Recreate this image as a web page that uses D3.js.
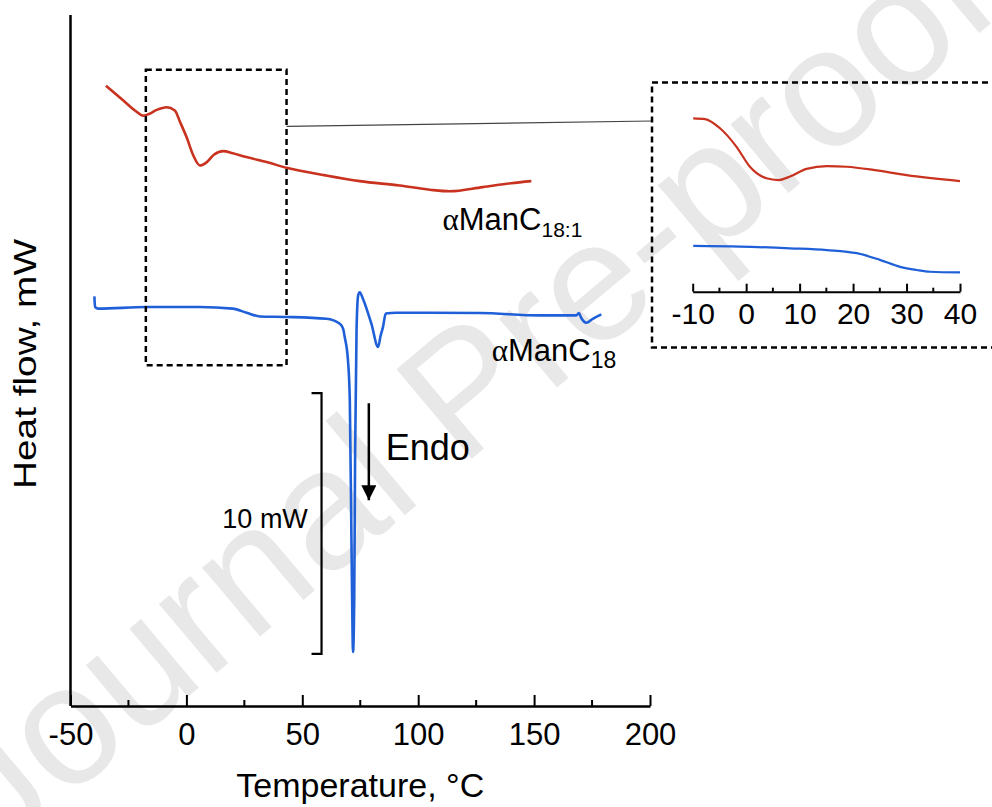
<!DOCTYPE html>
<html>
<head>
<meta charset="utf-8">
<script src="https://cdn.jsdelivr.net/npm/d3@7"></script>
<style>
  body { margin: 0; background: #fff; }
  svg { display: block; font-family: 'Liberation Sans', Arial, sans-serif; }
</style>
</head>
<body>
<svg id="chart" width="992" height="807"></svg>
<script>
// DSC traces: [temperature in C, heat flow in mW (offset)]
var red_main = [
  [-34.7, 23.79], [-27.2, 23.22], [-22.2, 22.84], [-18.6, 22.64], [-16.5, 22.69],
  [-12.8, 22.86], [-8.5, 22.96], [-5.0, 22.84], [-2.7, 22.39], [0.1, 21.81],
  [3.0, 21.11], [5.8, 20.73], [8.7, 20.85], [12.0, 21.15], [15.9, 21.28],
  [20.0, 21.20], [25.9, 21.05], [35.0, 20.85], [43.2, 20.64], [60.0, 20.35],
  [74.8, 20.13], [92.0, 19.96], [105.0, 19.80], [113.6, 19.74], [127.8, 19.90],
  [140.0, 20.05], [148.8, 20.13]
];
var blue_main = [
  [-39.7, 15.71], [-39.4, 15.30], [-38.0, 15.24], [-17.2, 15.30], [5.8, 15.30],
  [20.0, 15.24], [26.0, 15.08], [31.7, 14.94], [43.2, 14.92], [60.4, 14.85],
  [66.2, 14.66], [67.6, 14.47], [68.3, 14.15], [69.7, 13.26], [70.5, 11.72],
  [71.3, 5.59], [71.9, 2.07], [72.4, 4.06], [72.8, 9.81], [73.4, 14.41],
  [74.1, 15.75], [74.8, 15.87], [76.1, 15.63], [79.8, 14.66], [82.7, 13.77],
  [83.8, 14.21], [84.8, 14.53], [86.0, 15.05], [90.6, 15.08], [126.5, 15.07],
  [152.4, 14.98], [168.2, 14.98], [169.3, 15.07], [170.3, 14.89], [172.5, 14.70],
  [175.3, 14.85], [179.0, 15.02]
];

// Zoomed inset, -10 to 40 C (own vertical units)
var red_inset = [
  [-9.9, 4.95], [-7.7, 4.93], [-4.9, 4.67], [-1.8, 4.14], [0.7, 3.57],
  [3.8, 3.24], [6.0, 3.19], [8.2, 3.29], [11.3, 3.51], [15.1, 3.59],
  [18.8, 3.57], [23.8, 3.48], [30.0, 3.33], [40.0, 3.16]
];
var blue_inset = [
  [-9.9, 1.31], [-1.2, 1.29], [8.2, 1.24], [15.1, 1.19], [20.7, 1.10],
  [25.0, 0.91], [28.8, 0.71], [31.9, 0.62], [34.4, 0.57], [40.0, 0.55]
];

var main_ticks = [-50, 0, 50, 100, 150, 200];
var main_minor = [-25, 25, 75, 125, 175];
var inset_ticks = [-10, 0, 10, 20, 30, 40];
var inset_minor = [-5, 5, 15, 25, 35];

var svg = d3.select('#chart');
var red = '#c8321e';
var blue = '#1f5fd8';
var plain = function(d) { return String(d); }; // keep the hyphen minus of the original

// Watermark, drawn first so everything sits on top of it.
svg.append('text')
  .attr('transform', 'translate(472,400) rotate(-40)')
  .attr('text-anchor', 'middle')
  .attr('dominant-baseline', 'middle')
  .attr('font-size', 170)
  .attr('fill', '#e8e8e8')
  .text('Journal Pre-proof');

// Main scales.
var x = d3.scaleLinear().domain([-50, 200]).range([70.5, 650]);
var y = d3.scaleLinear().domain([0, 26.5]).range([706, 15]);

// Inset scales.
var xi = d3.scaleLinear().domain([-10, 40]).range([692.7, 960]);
var yi = d3.scaleLinear().domain([0, 6]).range([291.7, 81.7]);

// Axes: bottom with inward ticks, left is just a line.
svg.append('line')
  .attr('x1', x(-50)).attr('x2', x(-50))
  .attr('y1', y(26.5)).attr('y2', y(0))
  .attr('stroke', '#000').attr('stroke-width', 2.5);

var xAxis = svg.append('g')
  .attr('transform', 'translate(0,' + y(0) + ')')
  .call(d3.axisBottom(x).tickValues(main_ticks).tickFormat(plain)
    .tickSize(-11).tickSizeOuter(0).tickPadding(17));
xAxis.select('.domain').attr('stroke-width', 2.5);
xAxis.selectAll('.tick line').attr('stroke-width', 2);
xAxis.selectAll('.tick text')
  .attr('font-size', 31)
  .attr('font-family', "'Liberation Sans', Arial, sans-serif")
  .attr('fill', '#000');

xAxis.selectAll('.minor')
  .data(main_minor)
  .enter().append('line')
    .attr('class', 'minor')
    .attr('x1', function(d) { return x(d); })
    .attr('x2', function(d) { return x(d); })
    .attr('y1', 0).attr('y2', -6)
    .attr('stroke', '#000').attr('stroke-width', 2);

// Axis titles.
svg.append('text')
  .attr('x', (x(-50) + x(200)) / 2)
  .attr('y', 797)
  .attr('text-anchor', 'middle')
  .attr('font-size', 34)
  .text('Temperature, °C');

svg.append('text')
  .attr('transform', 'translate(36,364) rotate(-90)')
  .attr('text-anchor', 'middle')
  .attr('font-size', 31)
  .attr('textLength', 250)
  .attr('lengthAdjust', 'spacingAndGlyphs')
  .text('Heat flow, mW');

// Traces.
var line = d3.line()
  .x(function(d) { return x(d[0]); })
  .y(function(d) { return y(d[1]); })
  .curve(d3.curveMonotoneX);

svg.append('path').datum(red_main)
  .attr('d', line).attr('fill', 'none')
  .attr('stroke', red).attr('stroke-width', 2.6);
svg.append('path').datum(blue_main)
  .attr('d', line).attr('fill', 'none')
  .attr('stroke', blue).attr('stroke-width', 2.6);

// Series labels.
function label(tx, ty, sub, subSize) {
  var t = svg.append('text')
    .attr('x', x(tx)).attr('y', y(ty))
    .attr('font-size', 31);
  t.append('tspan').attr('font-family', "'Liberation Serif', serif").text('α');
  t.append('tspan').text('ManC');
  t.append('tspan').attr('font-size', subSize).attr('dy', 7).text(sub);
}
label(110.5, 18.25, '18:1', 21);
label(131.7, 13.25, '18', 23);

// Dashed box round the region that is zoomed in the inset.
svg.append('rect')
  .attr('x', x(-17.5)).attr('y', y(24.4))
  .attr('width', x(43.2) - x(-17.5))
  .attr('height', y(13.07) - y(24.4))
  .attr('fill', 'none').attr('stroke', '#000')
  .attr('stroke-width', 2.5).attr('stroke-dasharray', '6,4');

svg.append('line')
  .attr('x1', x(43.2)).attr('y1', y(22.23))
  .attr('x2', 652).attr('y2', 121)
  .attr('stroke', '#444').attr('stroke-width', 1.2);

// Inset frame (runs off the right edge).
svg.append('rect')
  .attr('x', 652).attr('y', 82.5)
  .attr('width', 360).attr('height', 265)
  .attr('fill', 'none').attr('stroke', '#000')
  .attr('stroke-width', 2.5).attr('stroke-dasharray', '6,4');

var inset = svg.append('g');
var insetAxis = inset.append('g')
  .attr('transform', 'translate(0,' + yi(0) + ')')
  .call(d3.axisBottom(xi).tickValues(inset_ticks).tickFormat(plain)
    .tickSize(-8).tickSizeOuter(0).tickPadding(11));
insetAxis.select('.domain').attr('stroke-width', 2);
insetAxis.selectAll('.tick line').attr('stroke-width', 2);
insetAxis.selectAll('.tick text')
  .attr('font-size', 30)
  .attr('font-family', "'Liberation Sans', Arial, sans-serif")
  .attr('fill', '#000');
insetAxis.selectAll('.minor')
  .data(inset_minor)
  .enter().append('line')
    .attr('x1', function(d) { return xi(d); })
    .attr('x2', function(d) { return xi(d); })
    .attr('y1', 0).attr('y2', -4)
    .attr('stroke', '#000').attr('stroke-width', 2);

var lineInset = d3.line()
  .x(function(d) { return xi(d[0]); })
  .y(function(d) { return yi(d[1]); })
  .curve(d3.curveMonotoneX);

inset.append('path').datum(red_inset)
  .attr('d', lineInset).attr('fill', 'none')
  .attr('stroke', red).attr('stroke-width', 2.2);
inset.append('path').datum(blue_inset)
  .attr('d', lineInset).attr('fill', 'none')
  .attr('stroke', blue).attr('stroke-width', 2.2);

// 10 mW scale bar.
var bar = svg.append('g');
bar.append('path')
  .attr('d', 'M' + (x(58.3) - 10) + ',' + y(12) + 'H' + x(58.3) + 'V' + y(2) + 'H' + (x(58.3) - 10))
  .attr('fill', 'none').attr('stroke', '#000').attr('stroke-width', 2.2);
bar.append('text')
  .attr('x', x(52.4)).attr('y', y(6.82))
  .attr('text-anchor', 'end')
  .attr('font-size', 27)
  .text('10 mW');

// Endo arrow.
svg.append('defs').append('marker')
  .attr('id', 'head')
  .attr('viewBox', '0 0 10 10')
  .attr('refX', 10).attr('refY', 5)
  .attr('markerWidth', 6).attr('markerHeight', 6)
  .attr('markerUnits', 'strokeWidth')
  .attr('orient', 'auto')
  .append('path').attr('d', 'M0,0L10,5L0,10Z').attr('fill', '#000');

svg.append('line')
  .attr('x1', x(78.7)).attr('x2', x(78.7))
  .attr('y1', y(11.61)).attr('y2', y(7.89))
  .attr('stroke', '#000').attr('stroke-width', 2.5)
  .attr('marker-end', 'url(#head)');

svg.append('text')
  .attr('x', x(86.0)).attr('y', y(9.43))
  .attr('font-size', 36)
  .text('Endo');
</script>
</body>
</html>
